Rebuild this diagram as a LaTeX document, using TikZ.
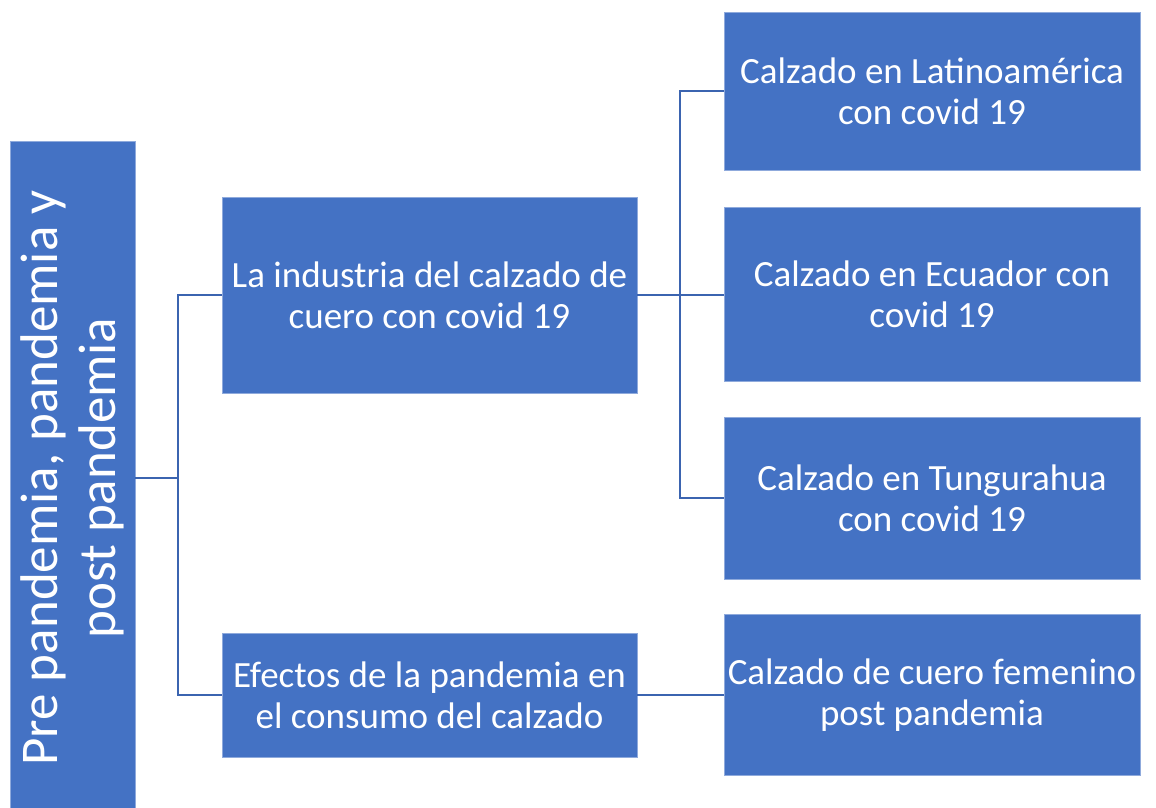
\documentclass[tikz,border=0pt]{standalone}
\usepackage{fontspec}
\setmainfont{Carlito}
\definecolor{boxblue}{HTML}{4472C4}
\definecolor{lineblue}{HTML}{3B64B0}
\begin{document}
\begin{tikzpicture}[x=1pt,y=-1pt,
  box/.style={rectangle, fill=boxblue, draw=boxblue!60!white, line width=0.8pt, text=white, align=center, inner sep=0pt,
    font=\fontsize{37}{41}\selectfont},
  conn/.style={draw=lineblue, line width=2pt}]
\useasboundingbox (0,0) rectangle (1156,808);
\fill[white] (0,0) rectangle (1156,808);
% left root box
\node[box, minimum width=125pt, minimum height=674pt, font=\fontsize{53}{58}\selectfont] (L) at (72.5,478) {};
\node[text=white, align=center, rotate=90, font=\fontsize{53}{58}\selectfont, inner sep=0pt] (Lt) at (L.center) {Pre pandemia, pandemia y\\post pandemia};
% middle boxes
\node[box, minimum width=415pt, minimum height=196pt] (A) at (429.5,295) {La industria del calzado de\\cuero con covid 19};
\node[box, minimum width=415pt, minimum height=124pt] (B) at (429.5,695) {Efectos de la pandemia en\\el consumo del calzado};
% right boxes
\node[box, minimum width=416pt, minimum height=158pt] (R1) at (932,91) {Calzado en Latinoamérica\\con covid 19};
\node[box, minimum width=416pt, minimum height=174pt] (R2) at (932,294) {Calzado en Ecuador con\\covid 19};
\node[box, minimum width=416pt, minimum height=162pt] (R3) at (932,498) {Calzado en Tungurahua\\con covid 19};
\node[box, minimum width=416pt, minimum height=161pt] (R4) at (932,695) {Calzado de cuero femenino\\post pandemia};
% connectors
\coordinate (j1) at (178,478);
\coordinate (j2) at (680,295);
\draw[conn] (L.east |- j1) -- (j1);
\draw[conn] (j1) |- (A.west);
\draw[conn] (j1) |- (B.west);
\draw[conn] (A.east) -- (j2);
\draw[conn] (j2) |- (R1.west);
\draw[conn] (j2) -- (R2.west |- j2);
\draw[conn] (j2) |- (R3.west);
\draw[conn] (B.east) -- (R4.west |- B.east);
\end{tikzpicture}
\end{document}
